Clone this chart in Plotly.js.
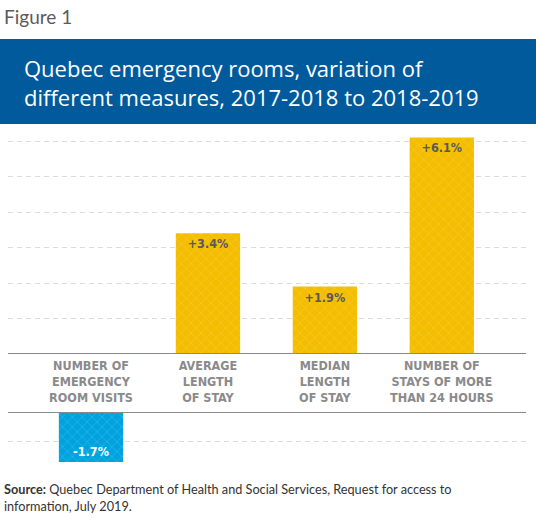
<!DOCTYPE html>
<html>
<head>
<meta charset="utf-8">
<script src="https://cdn.plot.ly/plotly-3.0.1.min.js"></script>
<style>html,body{margin:0;padding:0;background:#fff;}#chart{width:536px;height:518px;}</style>
</head>
<body>
<div id="chart"></div>
<script>
const categories = [
  "NUMBER OF<br>EMERGENCY<br>ROOM VISITS",
  "AVERAGE<br>LENGTH<br>OF STAY",
  "MEDIAN<br>LENGTH<br>OF STAY",
  "NUMBER OF<br>STAYS OF MORE<br>THAN 24 HOURS"
];
const values = [-1.7, 3.4, 1.9, 6.1];
const figureLabel = "Figure 1";
const titleText = "Quebec emergency rooms, variation of<br>different measures, 2017-2018 to 2018-2019";
const sourceText = "<b>Source:</b> Quebec Department of Health and Social Services, Request for access to<br>information, July 2019.";

const W = 536, H = 518;
const py = p => (H - p) / H;   // pixel-from-top -> paper
const px = p => p / W;

const fmt = v => (v > 0 ? "+" : "") + v.toFixed(1) + "%";

const patt = {shape: "x", fgcolor: "#ffffff", fgopacity: 0.3, size: 7, solidity: 0.12, fillmode: "overlay"};
const labelFont = {family: "DejaVu Sans Condensed, DejaVu Sans, sans-serif", size: 12.5, weight: "bold"};

const posTrace = {
  type: "bar", x: categories, y: values.map(v => v > 0 ? v : null),
  text: values.map(v => v > 0 ? fmt(v) : ""),
  xaxis: "x", yaxis: "y", width: 0.55,
  marker: {color: "#F4BD00", pattern: patt, line: {width: 0}},
  texttemplate: "%{text}", textposition: "inside", insidetextanchor: "end",
  textangle: 0, constraintext: "none",
  textfont: Object.assign({color: "#58595b"}, labelFont),
  hoverinfo: "skip", showlegend: false
};
const negTrace = {
  type: "bar", x: categories, y: values.map(v => v < 0 ? v : null),
  text: values.map(v => v < 0 ? fmt(v) : ""),
  xaxis: "x", yaxis: "y2", width: 0.55,
  marker: {color: "#00A3E0", pattern: patt, line: {width: 0}},
  texttemplate: "%{text}", textposition: "inside", insidetextanchor: "end",
  textangle: 0, constraintext: "none",
  textfont: Object.assign({color: "#ffffff"}, labelFont),
  hoverinfo: "skip", showlegend: false
};

const titleFont = {family: "Open Sans, sans-serif", size: 22, color: "#ffffff", weight: 500};

const layout = {
  width: W, height: H,
  margin: {l: 0, r: 0, t: 0, b: 0},
  paper_bgcolor: "#ffffff", plot_bgcolor: "rgba(0,0,0,0)",
  barmode: "overlay",
  xaxis: {
    domain: [px(8), px(526)], range: [-0.71, 3.72], anchor: "y",
    showgrid: false, zeroline: false, showline: false, ticks: "",
    tickfont: {family: "DejaVu Sans Condensed, DejaVu Sans, sans-serif", size: 12.5, color: "#8a8a8b", weight: "bold"},
    ticklabelstandoff: 2, fixedrange: true
  },
  yaxis: {
    domain: [py(354), py(130)], range: [0, (354 - 130) / 35.5],
    dtick: 1, tick0: 0, showticklabels: false, ticks: "",
    showgrid: true, gridcolor: "#dcdcdc", gridwidth: 1, griddash: "5px,4px",
    zeroline: false, showline: false, fixedrange: true
  },
  yaxis2: {
    domain: [py(463), py(412)], range: [-(463 - 412) / 29.4, 0], anchor: "x",
    dtick: 1, tick0: 0, showticklabels: false, ticks: "",
    showgrid: true, gridcolor: "#dcdcdc", gridwidth: 1, griddash: "5px,4px",
    zeroline: false, showline: false, fixedrange: true
  },
  shapes: [
    {type: "rect", xref: "paper", yref: "paper", x0: 0, x1: 1, y0: py(124), y1: py(39), fillcolor: "#005A9C", line: {width: 0}, layer: "below"},
    {type: "line", xref: "paper", yref: "y", x0: px(8), x1: px(526), y0: 0, y1: 0, line: {color: "#8a8a8b", width: 2}},
    {type: "line", xref: "paper", yref: "y2", x0: px(8), x1: px(526), y0: 0, y1: 0, line: {color: "#8a8a8b", width: 2}}
  ],
  annotations: [
    {text: figureLabel, xref: "paper", yref: "paper", x: px(2), y: py(3), xanchor: "left", yanchor: "top",
     showarrow: false, font: {family: "Lato, sans-serif", size: 19, color: "#5b5b5b"}},
    {text: titleText, xref: "paper", yref: "paper", x: px(22), y: py(82), xanchor: "left", yanchor: "middle",
     align: "left", showarrow: false, font: titleFont},
    {text: sourceText, xref: "paper", yref: "paper", x: px(2), y: py(497), xanchor: "left", yanchor: "middle",
     align: "left", showarrow: false, font: {family: "Lato, sans-serif", size: 12.7, color: "#333333"}}
  ]
};

Plotly.newPlot("chart", [posTrace, negTrace], layout, {displayModeBar: false, staticPlot: true});
</script>
</body>
</html>
